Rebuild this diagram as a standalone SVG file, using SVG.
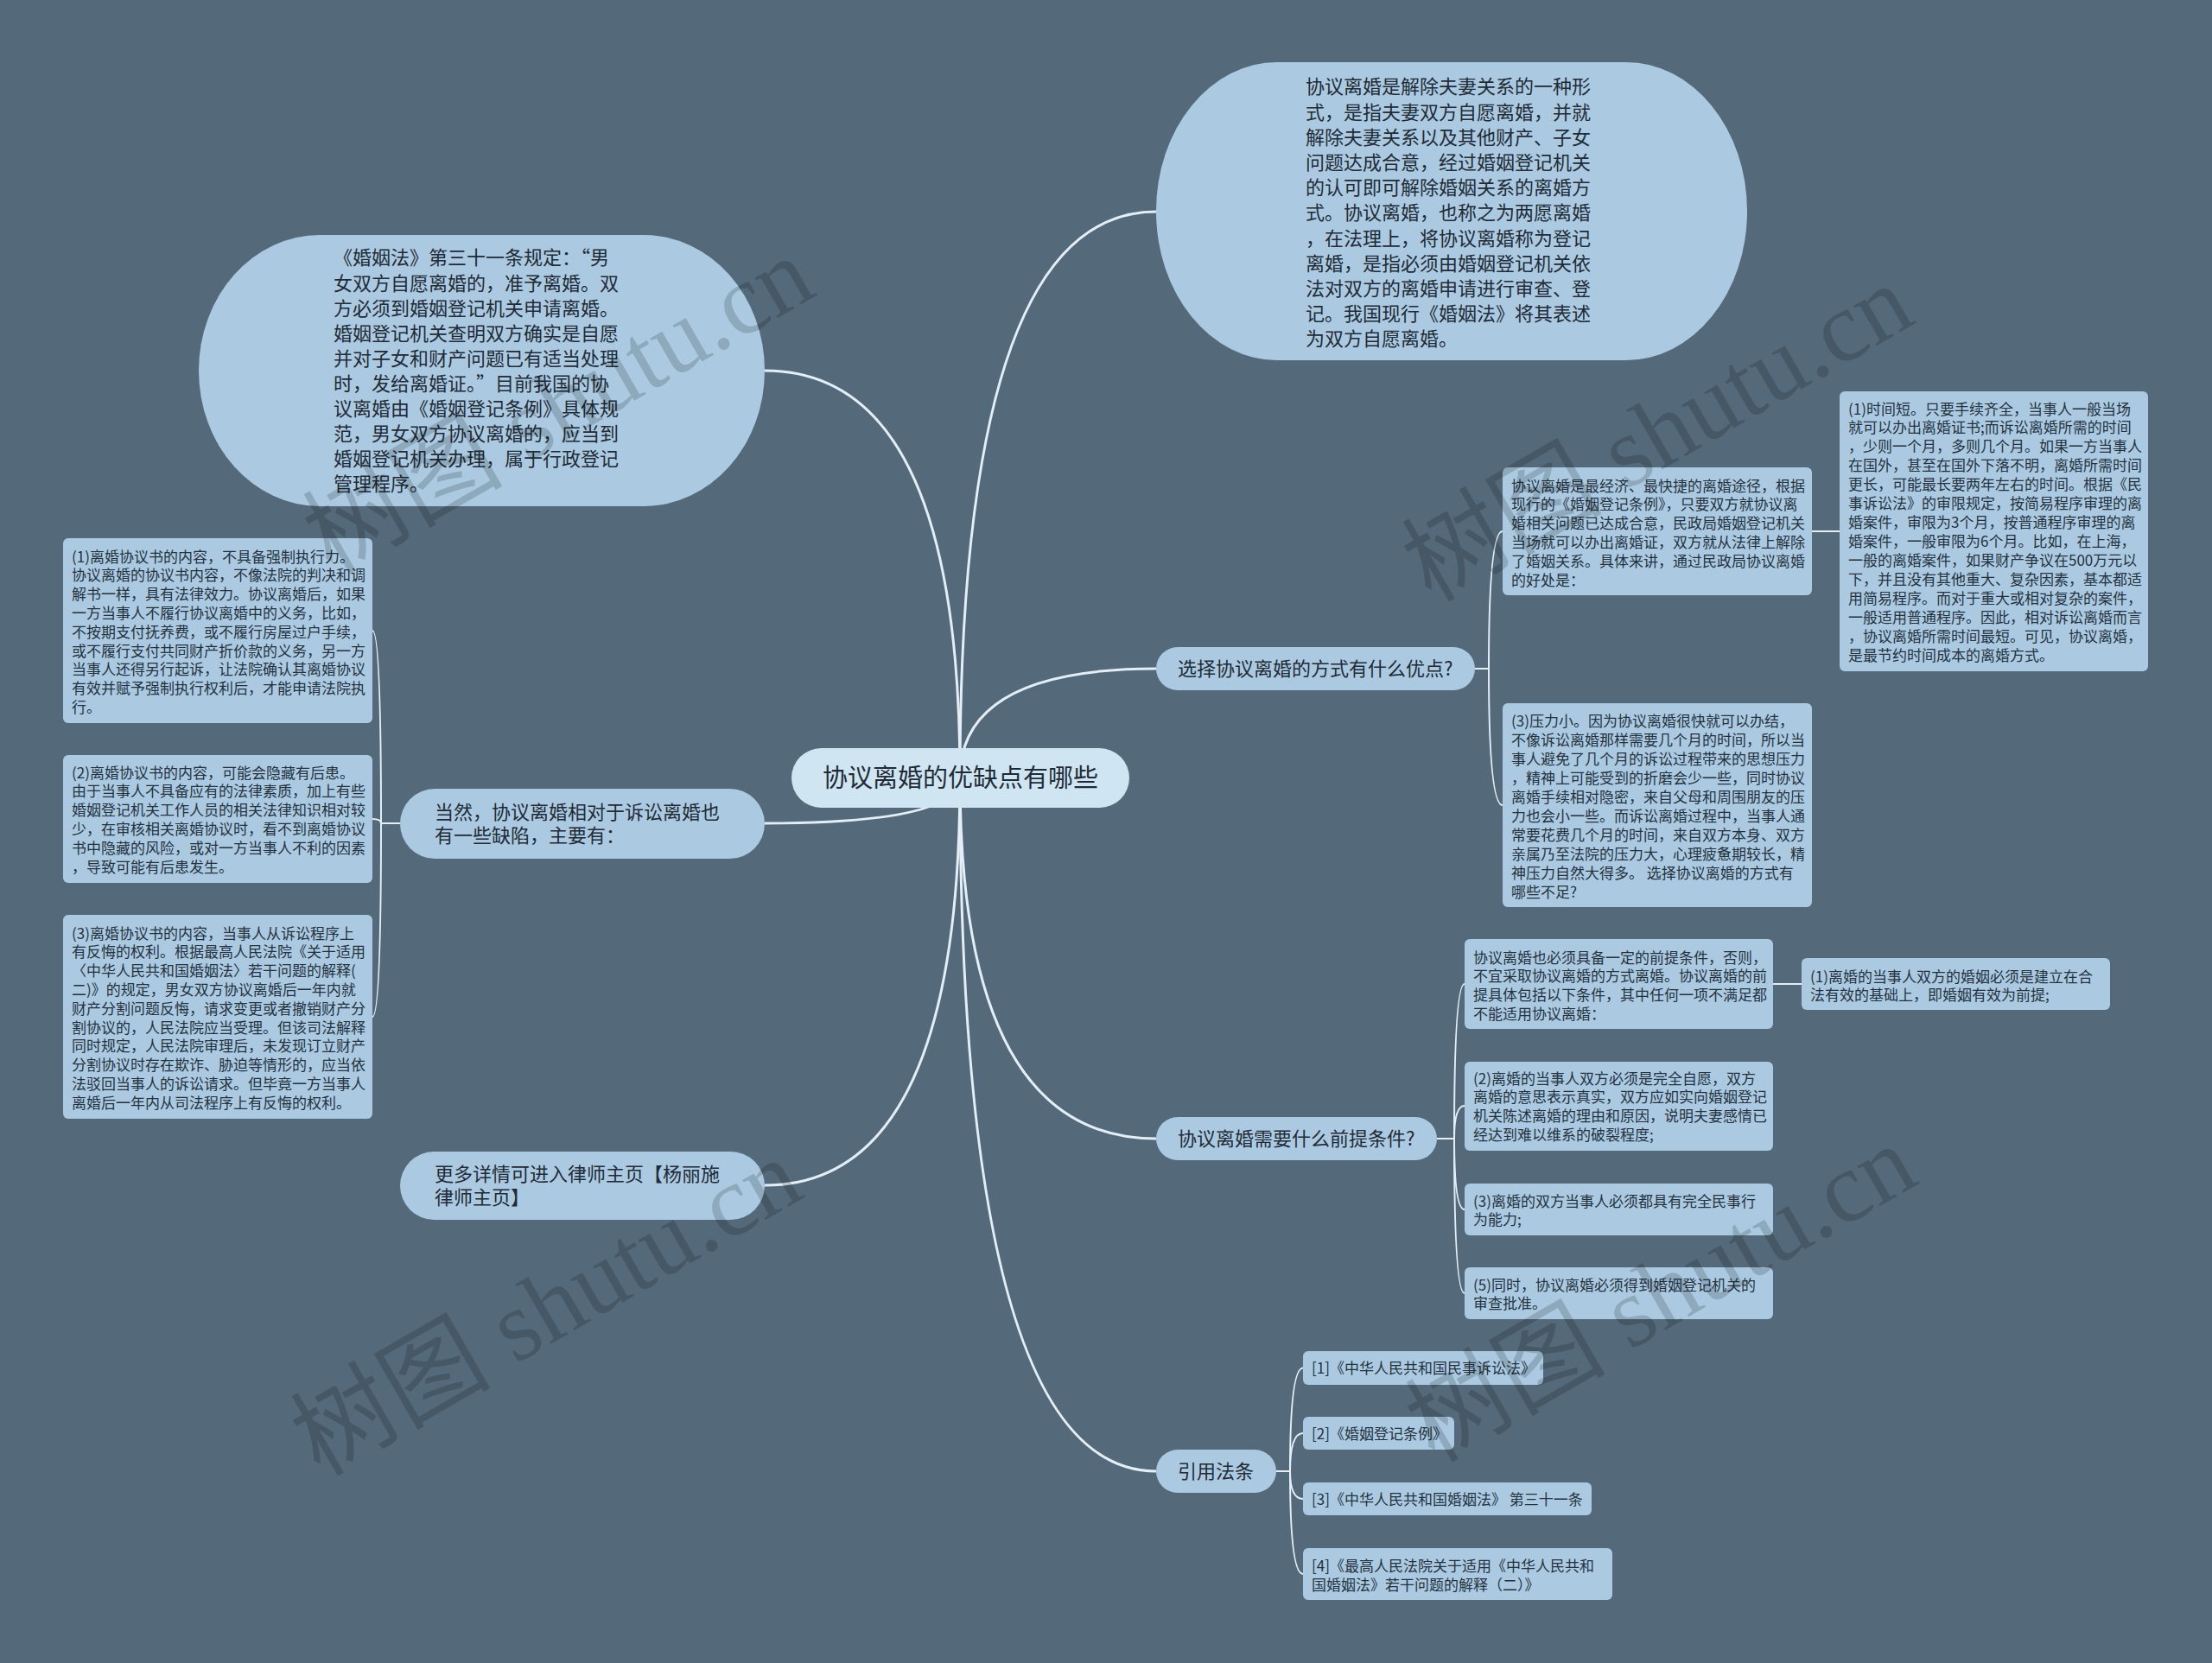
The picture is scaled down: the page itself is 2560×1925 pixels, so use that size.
<svg xmlns="http://www.w3.org/2000/svg" width="2560" height="1925" viewBox="0 0 2560 1925">
<style>
.bg{fill:#546a7b}
.root{fill:#cfe5f2}
.n{fill:#abcae1}
.t{font-family:"Noto Sans CJK SC","Noto Sans",sans-serif;fill:#1f2b36}
.t29{font-size:29px}
.t22{font-size:22px}
.t17{font-size:17px;fill:#24323f}
.c1{fill:none;stroke:#e3eef6;stroke-width:3}
.c2{fill:none;stroke:#e3eef6;stroke-width:2}
.wm{font-family:"Liberation Serif","Noto Sans CJK SC",serif;font-size:116px;fill:#000;opacity:0.16}
</style>
<rect class="bg" x="0" y="0" width="2560" height="1925"/>

<g id="connectors">
<path class="c1" d="M1111,900 Q1111,245 1338,245"/>
<path class="c1" d="M1111,900 Q1111,774 1338,774"/>
<path class="c1" d="M1111,900 Q1111,1318 1338,1318"/>
<path class="c1" d="M1111,900 Q1111,1703 1338,1703"/>
<path class="c1" d="M1111,900 Q1111,429 885,429"/>
<path class="c1" d="M1111,900 Q1111,953 885,953"/>
<path class="c1" d="M1111,900 Q1111,1372 885,1372"/>
<path class="c2" d="M463,953 H441 Q441,730 431,730"/>
<path class="c2" d="M463,953 H441 Q441,948 431,948"/>
<path class="c2" d="M463,953 H441 Q441,1177 431,1177"/>
<path class="c2" d="M1707,774 H1723 Q1723,615 1739,615"/>
<path class="c2" d="M1707,774 H1723 Q1723,932 1739,932"/>
<path class="c2" d="M2097,615 H2129"/>
<path class="c2" d="M1663,1318 H1683 Q1683,1139 1695,1139"/>
<path class="c2" d="M1663,1318 H1683 Q1683,1280 1695,1280"/>
<path class="c2" d="M1663,1318 H1683 Q1683,1400 1695,1400"/>
<path class="c2" d="M1663,1318 H1683 Q1683,1497 1695,1497"/>
<path class="c2" d="M2052,1139 H2085"/>
<path class="c2" d="M1477,1703 H1493 Q1493,1583.5 1508,1583.5"/>
<path class="c2" d="M1477,1703 H1493 Q1493,1659 1508,1659"/>
<path class="c2" d="M1477,1703 H1493 Q1493,1735 1508,1735"/>
<path class="c2" d="M1477,1703 H1493 Q1493,1822 1508,1822"/>
</g>

<g id="center">
<rect class="root" x="916" y="866" width="391" height="69" rx="34.5"/>
<text class="t t29" x="1111.5" y="911" text-anchor="middle">协议离婚的优缺点有哪些</text>
</g>

<g id="nodeA">
<rect class="n" x="1338" y="72" width="684" height="345" rx="140" ry="172"/>
<text class="t t22" x="1511" y="108.4">
<tspan x="1511" dy="0">协议离婚是解除夫妻关系的一种形</tspan>
<tspan x="1511" dy="29.2">式，是指夫妻双方自愿离婚，并就</tspan>
<tspan x="1511" dy="29.2">解除夫妻关系以及其他财产、子女</tspan>
<tspan x="1511" dy="29.2">问题达成合意，经过婚姻登记机关</tspan>
<tspan x="1511" dy="29.2">的认可即可解除婚姻关系的离婚方</tspan>
<tspan x="1511" dy="29.2">式。协议离婚，也称之为两愿离婚</tspan>
<tspan x="1511" dy="29.2">，在法理上，将协议离婚称为登记</tspan>
<tspan x="1511" dy="29.2">离婚，是指必须由婚姻登记机关依</tspan>
<tspan x="1511" dy="29.2">法对双方的离婚申请进行审查、登</tspan>
<tspan x="1511" dy="29.2">记。我国现行《婚姻法》将其表述</tspan>
<tspan x="1511" dy="29.2">为双方自愿离婚。</tspan>
</text>
</g>

<g id="nodeB">
<rect class="n" x="230" y="272" width="655" height="314" rx="140" ry="157"/>
<text class="t t22" x="386" y="306.4">
<tspan x="386" dy="0">《婚姻法》第三十一条规定：“男</tspan>
<tspan x="386" dy="29.1">女双方自愿离婚的，准予离婚。双</tspan>
<tspan x="386" dy="29.1">方必须到婚姻登记机关申请离婚。</tspan>
<tspan x="386" dy="29.1">婚姻登记机关查明双方确实是自愿</tspan>
<tspan x="386" dy="29.1">并对子女和财产问题已有适当处理</tspan>
<tspan x="386" dy="29.1">时，发给离婚证。”目前我国的协</tspan>
<tspan x="386" dy="29.1">议离婚由《婚姻登记条例》具体规</tspan>
<tspan x="386" dy="29.1">范，男女双方协议离婚的，应当到</tspan>
<tspan x="386" dy="29.1">婚姻登记机关办理，属于行政登记</tspan>
<tspan x="386" dy="29.1">管理程序。</tspan>
</text>
</g>

<g id="nodeL1">
<rect class="n" x="463" y="913" width="422" height="81" rx="40.5"/>
<text class="t t22" x="503" y="948.4">
<tspan x="503" dy="0">当然，协议离婚相对于诉讼离婚也</tspan>
<tspan x="503" dy="27">有一些缺陷，主要有：</tspan>
</text>
</g>

<g id="nodeL2">
<rect class="n" x="463" y="1333" width="422" height="79" rx="39.5"/>
<text class="t t22" x="503" y="1367.4">
<tspan x="503" dy="0">更多详情可进入律师主页【杨丽施</tspan>
<tspan x="503" dy="27">律师主页】</tspan>
</text>
</g>

<g id="nodeL1a">
<rect class="n" x="73" y="623" width="358" height="214" rx="6"/>
<text class="t t17" x="83" y="650.5">
<tspan x="83" dy="0">(1)离婚协议书的内容，不具备强制执行力。</tspan>
<tspan x="83" dy="21.8">协议离婚的协议书内容，不像法院的判决和调</tspan>
<tspan x="83" dy="21.8">解书一样，具有法律效力。协议离婚后，如果</tspan>
<tspan x="83" dy="21.8">一方当事人不履行协议离婚中的义务，比如，</tspan>
<tspan x="83" dy="21.8">不按期支付抚养费，或不履行房屋过户手续，</tspan>
<tspan x="83" dy="21.8">或不履行支付共同财产折价款的义务，另一方</tspan>
<tspan x="83" dy="21.8">当事人还得另行起诉，让法院确认其离婚协议</tspan>
<tspan x="83" dy="21.8">有效并赋予强制执行权利后，才能申请法院执</tspan>
<tspan x="83" dy="21.8">行。</tspan>
</text>
</g>

<g id="nodeL1b">
<rect class="n" x="73" y="874" width="358" height="148" rx="6"/>
<text class="t t17" x="83" y="900.5">
<tspan x="83" dy="0">(2)离婚协议书的内容，可能会隐藏有后患。</tspan>
<tspan x="83" dy="21.8">由于当事人不具备应有的法律素质，加上有些</tspan>
<tspan x="83" dy="21.8">婚姻登记机关工作人员的相关法律知识相对较</tspan>
<tspan x="83" dy="21.8">少，在审核相关离婚协议时，看不到离婚协议</tspan>
<tspan x="83" dy="21.8">书中隐藏的风险，或对一方当事人不利的因素</tspan>
<tspan x="83" dy="21.8">，导致可能有后患发生。</tspan>
</text>
</g>

<g id="nodeL1c">
<rect class="n" x="73" y="1059" width="358" height="236" rx="6"/>
<text class="t t17" x="83" y="1086.5">
<tspan x="83" dy="0">(3)离婚协议书的内容，当事人从诉讼程序上</tspan>
<tspan x="83" dy="21.8">有反悔的权利。根据最高人民法院《关于适用</tspan>
<tspan x="83" dy="21.8">〈中华人民共和国婚姻法〉若干问题的解释(</tspan>
<tspan x="83" dy="21.8">二)》的规定，男女双方协议离婚后一年内就</tspan>
<tspan x="83" dy="21.8">财产分割问题反悔，请求变更或者撤销财产分</tspan>
<tspan x="83" dy="21.8">割协议的，人民法院应当受理。但该司法解释</tspan>
<tspan x="83" dy="21.8">同时规定，人民法院审理后，未发现订立财产</tspan>
<tspan x="83" dy="21.8">分割协议时存在欺诈、胁迫等情形的，应当依</tspan>
<tspan x="83" dy="21.8">法驳回当事人的诉讼请求。但毕竟一方当事人</tspan>
<tspan x="83" dy="21.8">离婚后一年内从司法程序上有反悔的权利。</tspan>
</text>
</g>

<g id="nodeM1">
<rect class="n" x="1338" y="749" width="369" height="50" rx="25"/>
<text class="t t22" x="1363" y="782.4">选择协议离婚的方式有什么优点?</text>
</g>

<g id="nodeR1">
<rect class="n" x="1739" y="541" width="358" height="148" rx="6"/>
<text class="t t17" x="1749" y="568.5">
<tspan x="1749" dy="0">协议离婚是最经济、最快捷的离婚途径，根据</tspan>
<tspan x="1749" dy="21.8">现行的《婚姻登记条例》，只要双方就协议离</tspan>
<tspan x="1749" dy="21.8">婚相关问题已达成合意，民政局婚姻登记机关</tspan>
<tspan x="1749" dy="21.8">当场就可以办出离婚证，双方就从法律上解除</tspan>
<tspan x="1749" dy="21.8">了婚姻关系。具体来讲，通过民政局协议离婚</tspan>
<tspan x="1749" dy="21.8">的好处是：</tspan>
</text>
</g>

<g id="nodeR2">
<rect class="n" x="2129" y="453" width="357" height="324" rx="6"/>
<text class="t t17" x="2139" y="479.5">
<tspan x="2139" dy="0">(1)时间短。只要手续齐全，当事人一般当场</tspan>
<tspan x="2139" dy="21.95">就可以办出离婚证书;而诉讼离婚所需的时间</tspan>
<tspan x="2139" dy="21.95">，少则一个月，多则几个月。如果一方当事人</tspan>
<tspan x="2139" dy="21.95">在国外，甚至在国外下落不明，离婚所需时间</tspan>
<tspan x="2139" dy="21.95">更长，可能最长要两年左右的时间。根据《民</tspan>
<tspan x="2139" dy="21.95">事诉讼法》的审限规定，按简易程序审理的离</tspan>
<tspan x="2139" dy="21.95">婚案件，审限为3个月，按普通程序审理的离</tspan>
<tspan x="2139" dy="21.95">婚案件，一般审限为6个月。比如，在上海，</tspan>
<tspan x="2139" dy="21.95">一般的离婚案件，如果财产争议在500万元以</tspan>
<tspan x="2139" dy="21.95">下，并且没有其他重大、复杂因素，基本都适</tspan>
<tspan x="2139" dy="21.95">用简易程序。而对于重大或相对复杂的案件，</tspan>
<tspan x="2139" dy="21.95">一般适用普通程序。因此，相对诉讼离婚而言</tspan>
<tspan x="2139" dy="21.95">，协议离婚所需时间最短。可见，协议离婚，</tspan>
<tspan x="2139" dy="21.95">是最节约时间成本的离婚方式。</tspan>
</text>
</g>

<g id="nodeR3">
<rect class="n" x="1739" y="814" width="358" height="236" rx="6"/>
<text class="t t17" x="1749" y="840.5">
<tspan x="1749" dy="0">(3)压力小。因为协议离婚很快就可以办结，</tspan>
<tspan x="1749" dy="22">不像诉讼离婚那样需要几个月的时间，所以当</tspan>
<tspan x="1749" dy="22">事人避免了几个月的诉讼过程带来的思想压力</tspan>
<tspan x="1749" dy="22">，精神上可能受到的折磨会少一些，同时协议</tspan>
<tspan x="1749" dy="22">离婚手续相对隐密，来自父母和周围朋友的压</tspan>
<tspan x="1749" dy="22">力也会小一些。而诉讼离婚过程中，当事人通</tspan>
<tspan x="1749" dy="22">常要花费几个月的时间，来自双方本身、双方</tspan>
<tspan x="1749" dy="22">亲属乃至法院的压力大，心理疲惫期较长，精</tspan>
<tspan x="1749" dy="22">神压力自然大得多。 选择协议离婚的方式有</tspan>
<tspan x="1749" dy="22">哪些不足?</tspan>
</text>
</g>

<g id="nodeM2">
<rect class="n" x="1338" y="1293" width="325" height="50" rx="25"/>
<text class="t t22" x="1363" y="1326.4">协议离婚需要什么前提条件?</text>
</g>

<g id="nodeP0">
<rect class="n" x="1695" y="1087" width="357" height="104" rx="6"/>
<text class="t t17" x="1705" y="1114.5">
<tspan x="1705" dy="0">协议离婚也必须具备一定的前提条件，否则，</tspan>
<tspan x="1705" dy="21.8">不宜采取协议离婚的方式离婚。协议离婚的前</tspan>
<tspan x="1705" dy="21.8">提具体包括以下条件，其中任何一项不满足都</tspan>
<tspan x="1705" dy="21.8">不能适用协议离婚：</tspan>
</text>
</g>

<g id="nodeP1">
<rect class="n" x="2085" y="1109" width="357" height="60" rx="6"/>
<text class="t t17" x="2095" y="1136.5">
<tspan x="2095" dy="0">(1)离婚的当事人双方的婚姻必须是建立在合</tspan>
<tspan x="2095" dy="21.8">法有效的基础上，即婚姻有效为前提;</tspan>
</text>
</g>

<g id="nodeP2">
<rect class="n" x="1695" y="1229" width="357" height="103" rx="6"/>
<text class="t t17" x="1705" y="1254.5">
<tspan x="1705" dy="0">(2)离婚的当事人双方必须是完全自愿，双方</tspan>
<tspan x="1705" dy="21.8">离婚的意思表示真实，双方应如实向婚姻登记</tspan>
<tspan x="1705" dy="21.8">机关陈述离婚的理由和原因，说明夫妻感情已</tspan>
<tspan x="1705" dy="21.8">经达到难以维系的破裂程度;</tspan>
</text>
</g>

<g id="nodeP3">
<rect class="n" x="1695" y="1370" width="357" height="60" rx="6"/>
<text class="t t17" x="1705" y="1396.5">
<tspan x="1705" dy="0">(3)离婚的双方当事人必须都具有完全民事行</tspan>
<tspan x="1705" dy="21.8">为能力;</tspan>
</text>
</g>

<g id="nodeP4">
<rect class="n" x="1695" y="1467" width="357" height="60" rx="6"/>
<text class="t t17" x="1705" y="1493.5">
<tspan x="1705" dy="0">(5)同时，协议离婚必须得到婚姻登记机关的</tspan>
<tspan x="1705" dy="21.8">审查批准。</tspan>
</text>
</g>

<g id="nodeM3">
<rect class="n" x="1338" y="1678" width="139" height="50" rx="25"/>
<text class="t t22" x="1363" y="1711.4">引用法条</text>
</g>

<g id="ref1">
<rect class="n" x="1508" y="1564" width="278" height="39" rx="6"/>
<text class="t t17" x="1518" y="1590">[1]《中华人民共和国民事诉讼法》</text>
</g>
<g id="ref2">
<rect class="n" x="1508" y="1640" width="175" height="38" rx="6"/>
<text class="t t17" x="1518" y="1665.5">[2]《婚姻登记条例》</text>
</g>
<g id="ref3">
<rect class="n" x="1508" y="1716" width="334" height="38" rx="6"/>
<text class="t t17" x="1518" y="1741.5">[3]《中华人民共和国婚姻法》 第三十一条</text>
</g>
<g id="ref4">
<rect class="n" x="1508" y="1792" width="358" height="60" rx="6"/>
<text class="t t17" x="1518" y="1818.5">
<tspan x="1518" dy="0">[4]《最高人民法院关于适用《中华人民共和</tspan>
<tspan x="1518" dy="22">国婚姻法》若干问题的解释（二）》</tspan>
</text>
</g>

<g id="watermarks">
<text class="wm" x="384" y="666" transform="rotate(-30 384 666)">树图 shutu.cn</text>
<text class="wm" x="1656" y="698" transform="rotate(-30 1656 698)">树图 shutu.cn</text>
<text class="wm" x="370" y="1710" transform="rotate(-30 370 1710)">树图 shutu.cn</text>
<text class="wm" x="1660" y="1694" transform="rotate(-30 1660 1694)">树图 shutu.cn</text>
</g>
</svg>
